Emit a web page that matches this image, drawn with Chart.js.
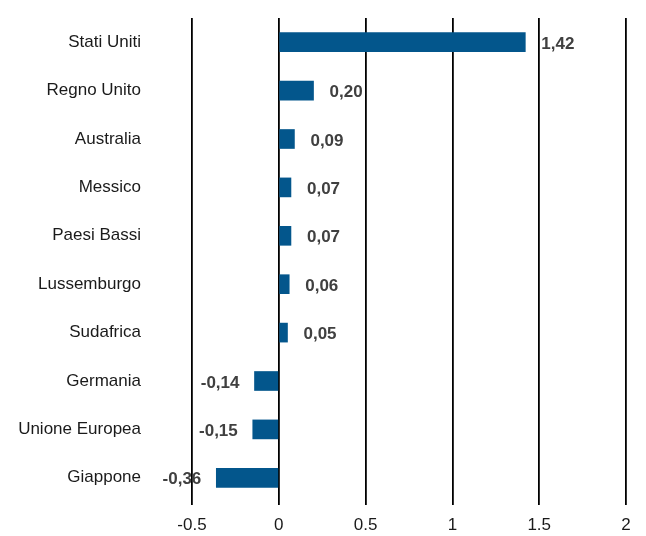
<!DOCTYPE html>
<html>
<head>
<meta charset="utf-8">
<script src="https://cdn.jsdelivr.net/npm/chart.js@4.4.1/dist/chart.umd.min.js"></script>
<style>
  html, body { margin: 0; padding: 0; background: #fff; overflow: hidden; }
</style>
</head>
<body>
<canvas id="grafico" width="646" height="536"></canvas>
<script>
const paesi = ['Stati Uniti', 'Regno Unito', 'Australia', 'Messico', 'Paesi Bassi',
  'Lussemburgo', 'Sudafrica', 'Germania', 'Unione Europea', 'Giappone']
const valori = [1.42, 0.20, 0.09, 0.07, 0.07, 0.06, 0.05, -0.14, -0.15, -0.36]
const tickX = [-0.5, 0, 0.5, 1, 1.5, 2]

const FONT = "'Liberation Sans', Arial, sans-serif"

// etichette accanto alle barre
const etichette = {
  id: 'etichette',
  afterDatasetsDraw(chart) {
    const ctx = chart.ctx
    const meta = chart.getDatasetMeta(0)
    ctx.save()
    ctx.font = 'bold 17px ' + FONT
    ctx.fillStyle = '#404040'
    ctx.textBaseline = 'middle'
    meta.data.forEach((bar, i) => {
      const v = valori[i]
      const txt = v.toFixed(2).replace('.', ',')
      if (v >= 0) {
        ctx.textAlign = 'left'
        ctx.fillText(txt, bar.x + 16, bar.y + 2)
      } else {
        ctx.textAlign = 'right'
        ctx.fillText(txt, bar.x - 15, bar.y + 2)
      }
    })
    ctx.restore()
  }
}

new Chart(document.getElementById('grafico').getContext('2d'), {
  type: 'bar',
  data: {
    labels: paesi,
    datasets: [{
      data: valori,
      backgroundColor: '#03568c',
      borderWidth: 0,
      barThickness: 19
    }]
  },
  options: {
    indexAxis: 'y',
    responsive: false,
    animation: false,
    layout: { padding: { top: 18, right: 20, left: 0, bottom: 0 } },
    plugins: {
      legend: { display: false },
      tooltip: { enabled: false }
    },
    scales: {
      x: {
        min: -0.5,
        max: 2,
        afterBuildTicks: s => { s.ticks = tickX.map(v => ({ value: v })) },
        afterFit: s => { s.height = 34; s.paddingLeft = 0; s.paddingRight = 0 },
        border: { display: false },
        grid: { color: '#000', lineWidth: 1.8, drawTicks: true, tickLength: 3, tickColor: '#000' },
        ticks: {
          color: '#1a1a1a',
          font: { family: FONT, size: 17 },
          padding: 10,
          callback: v => String(v)
        }
      },
      y: {
        afterFit: s => { s.width = 192; s.paddingTop = 0; s.paddingBottom = 0 },
        border: { display: false },
        grid: { display: false },
        ticks: {
          color: '#1a1a1a',
          font: { family: FONT, size: 17 },
          padding: 43
        }
      }
    }
  },
  plugins: [etichette]
})
</script>
</body>
</html>
